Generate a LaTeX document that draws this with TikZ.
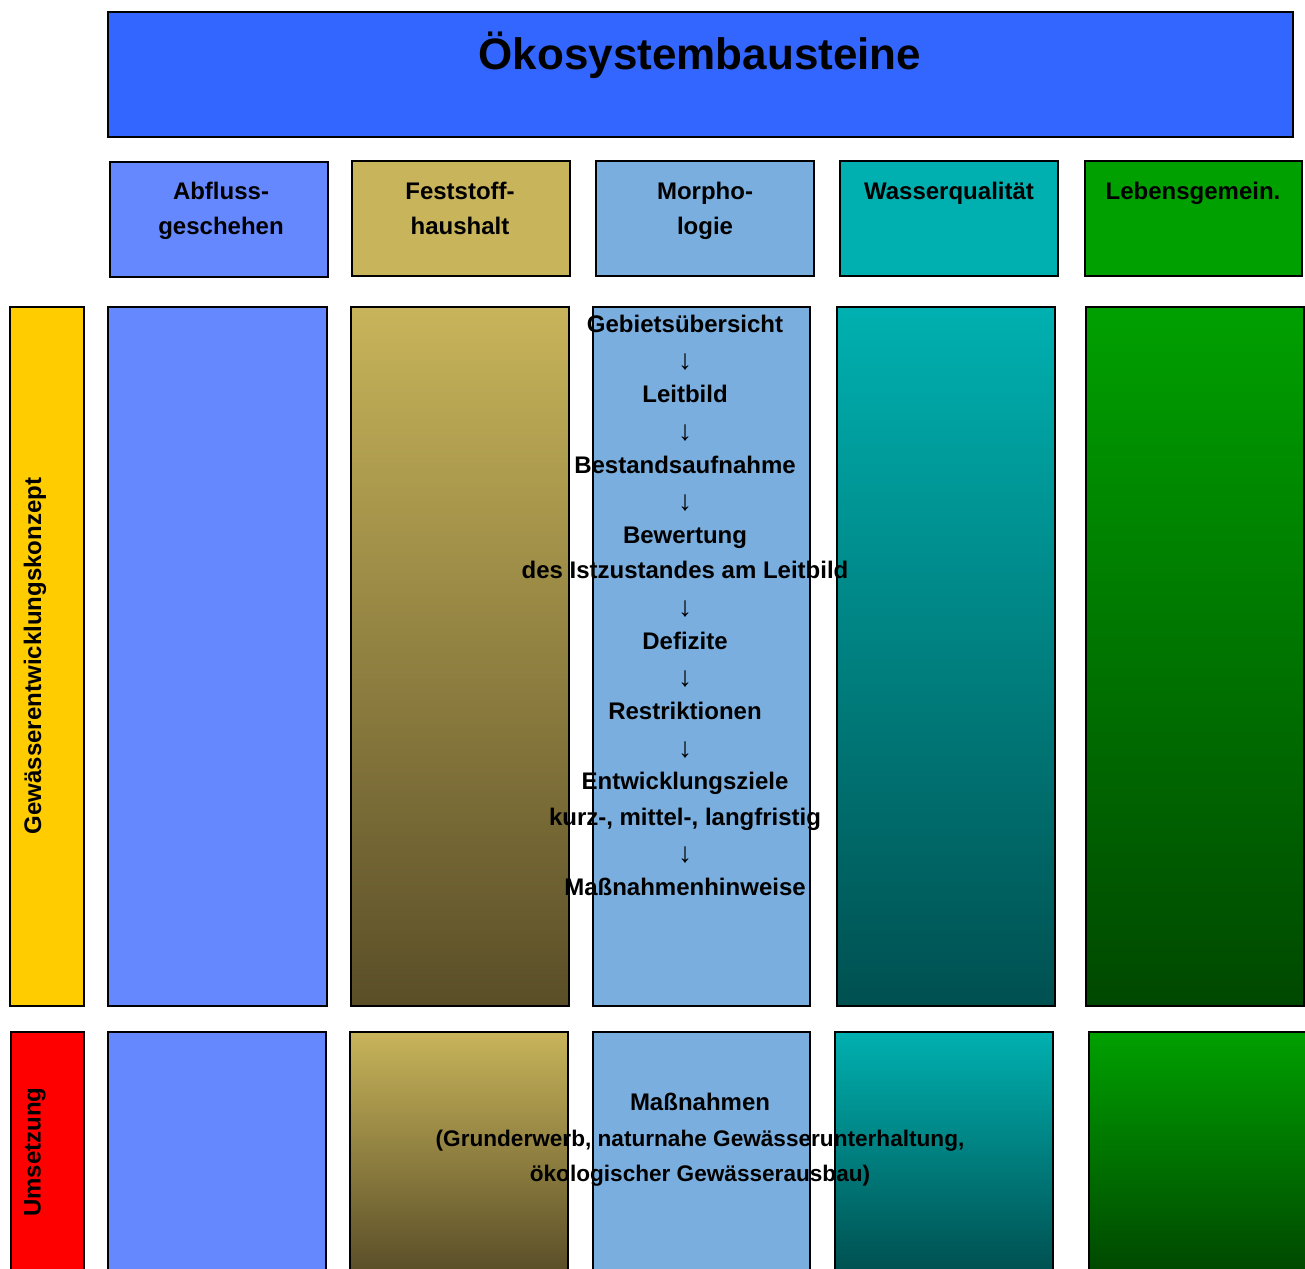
\documentclass[tikz,border=0pt]{standalone}
\usepackage{fontspec}
\setmainfont{Liberation Sans}
\usetikzlibrary{positioning}

\definecolor{titleBlue}{HTML}{3366FF}
\definecolor{abflussBlue}{HTML}{6688FF}
\definecolor{feststoffTop}{HTML}{C8B45A}
\definecolor{feststoffBot}{HTML}{5A4E28}
\definecolor{morphoBlue}{HTML}{7AAEDE}
\definecolor{wasserTop}{HTML}{00B0B0}
\definecolor{wasserBot}{HTML}{005050}
\definecolor{lebenTop}{HTML}{00A000}
\definecolor{lebenBot}{HTML}{004800}
\definecolor{konzeptYellow}{HTML}{FFCC00}
\definecolor{umsetzRed}{HTML}{FF0000}

\newcommand{\stepdown}{{\mdseries\fontsize{28}{35}\selectfont\raisebox{-2.3pt}{↓}}}

\begin{document}
\begin{tikzpicture}[x=1pt, y=-1pt,
    box/.style={draw=black, line width=1.6pt, inner sep=0pt, anchor=north west},
    lbl/.style={font=\bfseries\fontsize{24}{35}\selectfont, inner sep=0pt, anchor=base},
    small/.style={lbl, font=\bfseries\fontsize{22.6}{35}\selectfont},
]
\clip (0, 0) rectangle (1305, 1268);
\fill[white] (0, 0) rectangle (1305, 1268);

% title
\node[box, fill=titleBlue, minimum width=1185pt, minimum height=125pt] (title) at (107, 11) {};
\node[font=\bfseries\fontsize{44}{50}\selectfont, inner sep=0pt, anchor=base] (titleText) at (700, 69.5) {Ökosystembausteine};

% header boxes
\node[box, fill=abflussBlue, minimum width=218pt, minimum height=115pt] (hAbfluss) at (109, 161) {};
\node[box, fill=feststoffTop, minimum width=218pt, minimum height=115pt] (hFeststoff) at (351, 160) {};
\node[box, fill=morphoBlue, minimum width=218pt, minimum height=115pt] (hMorpho) at (595, 160) {};
\node[box, fill=wasserTop, minimum width=218pt, minimum height=115pt] (hWasser) at (839, 160) {};
\node[box, fill=lebenTop, minimum width=217pt, minimum height=115pt] (hLeben) at (1084, 160) {};

% Gewaesserentwicklungskonzept row
\node[box, fill=konzeptYellow, minimum width=74pt, minimum height=699pt] (konzept) at (9, 306) {};
\node[box, fill=abflussBlue, minimum width=219pt, minimum height=699pt] (kAbfluss) at (107, 306) {};
\node[box, top color=feststoffTop, bottom color=feststoffBot, minimum width=218pt, minimum height=699pt] (kFeststoff) at (350, 306) {};
\node[box, fill=morphoBlue, minimum width=217pt, minimum height=699pt] (kMorpho) at (592, 306) {};
\node[box, top color=wasserTop, bottom color=wasserBot, minimum width=218pt, minimum height=699pt] (kWasser) at (836, 306) {};
\node[box, top color=lebenTop, bottom color=lebenBot, minimum width=218pt, minimum height=699pt] (kLeben) at (1085, 306) {};

% Umsetzung row
\node[box, fill=umsetzRed, minimum width=73pt, minimum height=250pt] (umsetz) at (10, 1031) {};
\node[box, fill=abflussBlue, minimum width=218pt, minimum height=250pt] (uAbfluss) at (107, 1031) {};
\node[box, top color=feststoffTop, bottom color=feststoffBot, minimum width=218pt, minimum height=240pt] (uFeststoff) at (349, 1031) {};
\node[box, fill=morphoBlue, minimum width=217pt, minimum height=250pt] (uMorpho) at (592, 1031) {};
\node[box, top color=wasserTop, bottom color=wasserBot, minimum width=218pt, minimum height=240pt] (uWasser) at (834, 1031) {};
\node[box, top color=lebenTop, bottom color=lebenBot, minimum width=218pt, minimum height=240pt] (uLeben) at (1088, 1031) {};

% header texts
\node[lbl] (tAbfluss1) at (221, 199) {Abfluss-};
\node[lbl] (tAbfluss2) at (221, 234.5) {geschehen};
\node[lbl] (tFeststoff1) at (460, 199) {Feststoff-};
\node[lbl] (tFeststoff2) at (460, 234.5) {haushalt};
\node[lbl] (tMorpho1) at (705, 199) {Morpho-};
\node[lbl] (tMorpho2) at (705, 234.5) {logie};
\node[lbl] (tWasser) at (949, 199) {Wasserqualität};
\node[lbl] (tLeben) at (1193, 199) {Lebensgemein.};

% side labels
\node[lbl, anchor=center, rotate=90] (tKonzept) at (35, 656) {Gewässerentwicklungskonzept};
\node[lbl, anchor=center, rotate=90] (tUmsetz) at (35, 1152) {Umsetzung};

% steps
\foreach \t [count=\i from 0] in {Gebietsübersicht, \stepdown, Leitbild, \stepdown, Bestandsaufnahme, \stepdown, Bewertung,
    des Istzustandes am Leitbild, \stepdown, Defizite, \stepdown, Restriktionen, \stepdown, Entwicklungsziele,
    {kurz-, mittel-, langfristig}, \stepdown, Maßnahmenhinweise}
  \node[lbl] (step\i) at (685, 332.5+35.19*\i) {\t};

% measures
\node[lbl] (mass1) at (700, 1110.5) {Maßnahmen};
\node[small] (mass2) at (700, 1146) {(Grunderwerb, naturnahe Gewässerunterhaltung,};
\node[small] (mass3) at (700, 1181.5) {ökologischer Gewässerausbau)};
\end{tikzpicture}
\end{document}
